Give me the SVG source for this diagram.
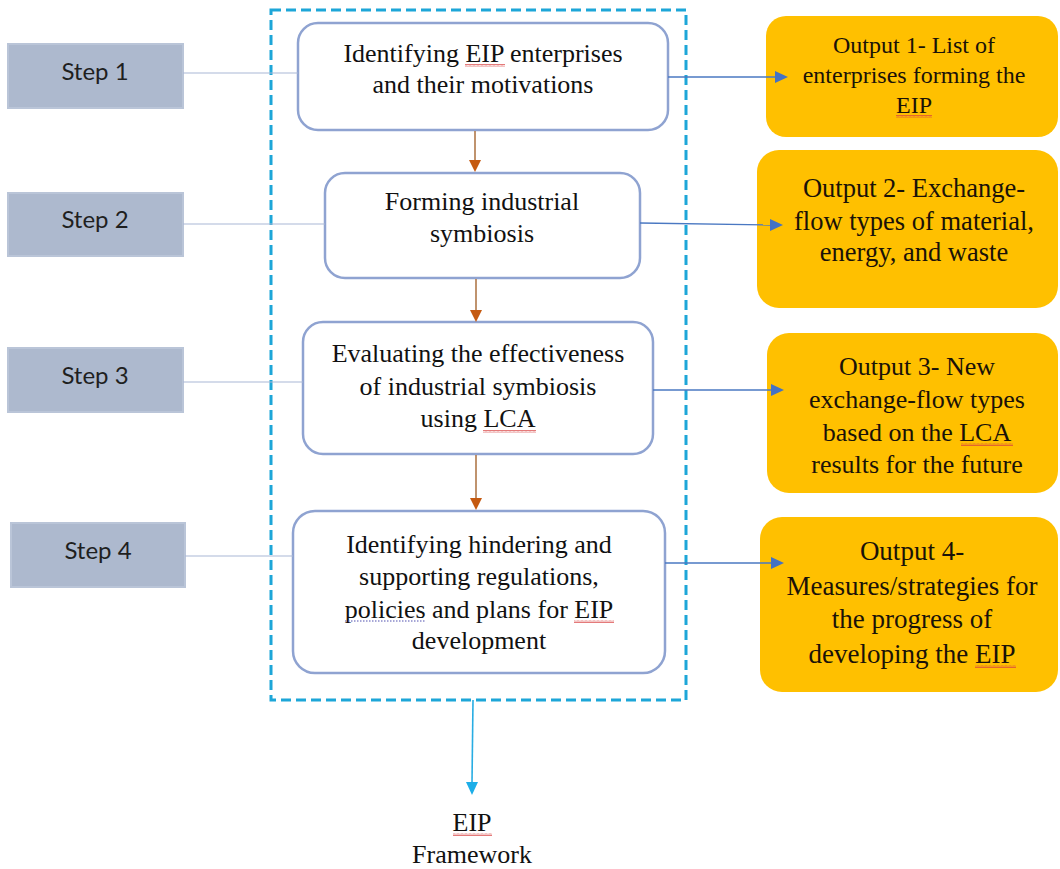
<svg xmlns="http://www.w3.org/2000/svg" width="1060" height="869" viewBox="0 0 1060 869">
  <style>
    .step rect { fill: #ADB9CE; stroke: #BAC5D8; stroke-width: 2; }
    .step text { font-family: Lato, "Liberation Sans", sans-serif; font-size: 24px; fill: #1f1f1f; text-anchor: middle; }
    .proc rect { fill: #ffffff; stroke: #8FA3D1; stroke-width: 2.5; }
    .proc text { font-family: "Liberation Serif", "Times New Roman", serif; font-size: 26px; fill: #111111; text-anchor: middle; }
    .out rect { fill: #FFC000; }
    .out text { font-family: "Liberation Serif", "Times New Roman", serif; fill: #1a1208; text-anchor: middle; }
    .label { font-family: "Liberation Serif", "Times New Roman", serif; font-size: 26px; fill: #111111; text-anchor: middle; }
    .tie { stroke: #A9B8D6; stroke-width: 1.2; fill: none; }
    .flow { stroke: #B0784A; stroke-width: 1.6; fill: none; }
    .flow-head { fill: #C55A11; }
    .feed { stroke: #4A78C2; stroke-width: 1.4; fill: none; }
    .feed-head { fill: #4472C4; }
    .final { stroke: #28ADE3; stroke-width: 1.6; fill: none; }
    .final-head { fill: #1DAEE8; }
    .frame { fill: none; stroke: #1DA6D8; stroke-width: 3; stroke-dasharray: 10 5; }
    g rect.spell, .proc rect.spell, .out rect.spell { fill: url(#wave); stroke: none; }
    .gram { stroke: #5050B0; stroke-width: 1.2; stroke-dasharray: 1.5 1.5; fill: none; }
  </style>
  <defs>
    <!-- wavy underline used for flagged words -->
    <pattern id="wave" width="4" height="3" patternUnits="userSpaceOnUse">
      <path d="M0,2.5 L1,0.5 L2,2.5 L3,0.5 L4,2.5" fill="none" stroke="#D84040" stroke-width="0.7"/>
    </pattern>
  </defs>

  <!-- dashed framework boundary -->
  <rect class="frame" x="271" y="10" width="415" height="690"/>

  <!-- step labels -->
  <g id="step1" class="step">
    <rect x="8" y="44" width="175" height="64"/>
    <text x="95" y="80">Step 1</text>
  </g>
  <g id="step2" class="step">
    <rect x="8" y="193" width="175" height="63"/>
    <text x="95" y="228">Step 2</text>
  </g>
  <g id="step3" class="step">
    <rect x="8" y="348" width="175" height="64"/>
    <text x="95" y="384">Step 3</text>
  </g>
  <g id="step4" class="step">
    <rect x="11" y="523" width="174" height="64"/>
    <text x="98" y="559">Step 4</text>
  </g>

  <!-- process boxes -->
  <g id="proc1" class="proc">
    <rect x="298" y="23" width="370" height="107" rx="20"/>
    <text x="483" y="62">Identifying EIP enterprises</text>
    <text x="483" y="93">and their motivations</text>
    <rect class="spell" x="465" y="64" width="40" height="3"/>
  </g>
  <g id="proc2" class="proc">
    <rect x="325" y="173" width="315" height="105" rx="20"/>
    <text x="482" y="210">Forming industrial</text>
    <text x="482" y="242">symbiosis</text>
  </g>
  <g id="proc3" class="proc">
    <rect x="303" y="322" width="350" height="132" rx="20"/>
    <text x="478" y="362">Evaluating the effectiveness</text>
    <text x="478" y="395">of industrial symbiosis</text>
    <text x="478" y="427">using LCA</text>
    <rect class="spell" x="483" y="430" width="53" height="3"/>
  </g>
  <g id="proc4" class="proc">
    <rect x="293" y="511" width="372" height="162" rx="22"/>
    <text x="479" y="553">Identifying hindering and</text>
    <text x="479" y="585">supporting regulations,</text>
    <text x="479" y="618">policies and plans for EIP</text>
    <text x="479" y="649">development</text>
    <line class="gram" x1="345" y1="621" x2="425" y2="621"/>
    <rect class="spell" x="574" y="620" width="40" height="3"/>
  </g>

  <!-- outputs -->
  <g id="out1" class="out">
    <rect x="766" y="16" width="292" height="121" rx="20"/>
    <text x="914" y="53" font-size="24">Output 1- List of</text>
    <text x="914" y="83" font-size="24">enterprises forming the</text>
    <text x="914" y="113" font-size="24">EIP</text>
    <rect class="spell" x="896" y="115" width="36" height="3"/>
  </g>
  <g id="out2" class="out">
    <rect x="757" y="150" width="301" height="158" rx="22"/>
    <text x="914" y="197" font-size="26.5">Output 2- Exchange-</text>
    <text x="914" y="230" font-size="26.5">flow types of material,</text>
    <text x="914" y="261" font-size="26.5">energy, and waste</text>
  </g>
  <g id="out3" class="out">
    <rect x="767" y="333" width="291" height="160" rx="22"/>
    <text x="917" y="375" font-size="26">Output 3- New</text>
    <text x="917" y="408" font-size="26">exchange-flow types</text>
    <text x="917" y="441" font-size="26">based on the LCA</text>
    <text x="917" y="473" font-size="26">results for the future</text>
    <rect class="spell" x="961" y="443" width="52" height="3"/>
  </g>
  <g id="out4" class="out">
    <rect x="760" y="517" width="298" height="175" rx="22"/>
    <text x="912" y="560" font-size="27">Output 4-</text>
    <text x="912" y="595" font-size="27">Measures/strategies for</text>
    <text x="912" y="628" font-size="27">the progress of</text>
    <text x="912" y="663" font-size="27">developing the EIP</text>
    <rect class="spell" x="975" y="665" width="41" height="3"/>
  </g>

  <!-- final result label -->
  <g id="result">
    <text class="label" x="472" y="831">EIP</text>
    <text class="label" x="472" y="863">Framework</text>
    <rect class="spell" x="453" y="833" width="39" height="3"/>
  </g>

  <!-- connectors, drawn last so arrowheads sit on top of the boxes -->
  <g id="connectors">
    <line class="tie" x1="183" y1="73" x2="298" y2="73"/>
    <line class="tie" x1="183" y1="224" x2="325" y2="224"/>
    <line class="tie" x1="183" y1="382" x2="303" y2="382"/>
    <line class="tie" x1="185" y1="556" x2="293" y2="556"/>

    <line class="flow" x1="475" y1="131" x2="475" y2="161"/>
    <polygon class="flow-head" points="469,160 481,160 475,172"/>
    <line class="flow" x1="476" y1="279" x2="476" y2="311"/>
    <polygon class="flow-head" points="470,310 482,310 476,322"/>
    <line class="flow" x1="476" y1="455" x2="476" y2="499"/>
    <polygon class="flow-head" points="470,498 482,498 476,510"/>

    <line class="feed" x1="668" y1="77" x2="776" y2="77"/>
    <polygon class="feed-head" points="775,71 775,83 788,77"/>
    <line class="feed" x1="640" y1="223" x2="771" y2="225"/>
    <polygon class="feed-head" points="770,219 770,231 783,225"/>
    <line class="feed" x1="653" y1="390" x2="772" y2="390"/>
    <polygon class="feed-head" points="771,384 771,396 784,390"/>
    <line class="feed" x1="665" y1="563" x2="772" y2="563"/>
    <polygon class="feed-head" points="771,557 771,569 784,563"/>

    <line class="final" x1="473" y1="700" x2="472" y2="783"/>
    <polygon class="final-head" points="466,782 478,782 472,795"/>
  </g>
</svg>
